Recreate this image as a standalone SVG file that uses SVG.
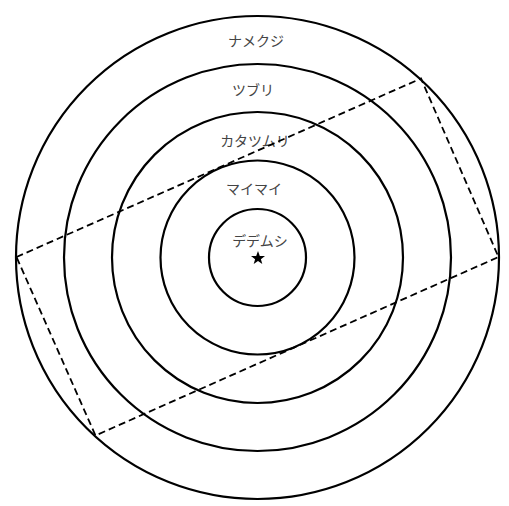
<svg xmlns="http://www.w3.org/2000/svg" width="509" height="506" viewBox="0 0 509 506">
<style>
.ring{fill:none;stroke:#000;stroke-width:2.2}
.lbl{font-family:"Noto Sans CJK JP","Noto Sans",sans-serif;font-size:14px;fill:#444;text-anchor:middle}
.dash{fill:none;stroke:#000;stroke-width:1.8;stroke-dasharray:7 4}
</style>
<rect width="509" height="506" fill="#fff"/>
<g id="namekuji">
<circle class="ring" cx="257.5" cy="257.5" r="241.5"/>
<text class="lbl" x="256" y="46">ナメクジ</text>
</g>
<g id="tsuburi">
<circle class="ring" cx="257.5" cy="257.5" r="193.5"/>
<text class="lbl" x="253" y="95">ツブリ</text>
</g>
<g id="katatsumuri">
<circle class="ring" cx="257.5" cy="257.5" r="145.5"/>
<text class="lbl" x="255" y="146">カタツムリ</text>
</g>
<g id="maimai">
<circle class="ring" cx="257.5" cy="257.5" r="97"/>
<text class="lbl" x="254" y="194">マイマイ</text>
</g>
<g id="dedemushi">
<circle class="ring" cx="257.5" cy="257.5" r="48.5"/>
<text class="lbl" x="260" y="246">デデムシ</text>
<polygon fill="#000" points="258,251 259.8,256 265,256.1 260.9,259.2 262.3,264 258,261.1 253.7,264 255.1,259.2 251,256.1 256.2,256"/>
</g>
<g id="connectors">
<polygon class="dash" points="16.5,257 421,78.5 498.5,257 95.5,435.5"/>
</g>
</svg>
